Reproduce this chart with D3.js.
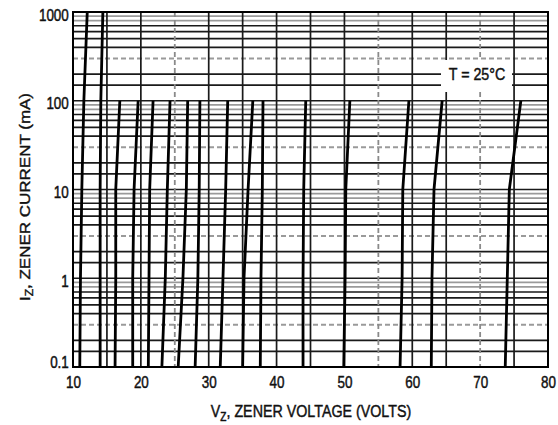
<!DOCTYPE html>
<html>
<head>
<meta charset="utf-8">
<script src="https://cdn.jsdelivr.net/npm/d3@7"></script>
<style>
body { margin: 0; background: #fff; }
svg text { font-family: "Liberation Sans", Arial, sans-serif; fill: #111; stroke: #111; stroke-width: 0.45px; }
</style>
</head>
<body>
<div id="chart"></div>
<script>
const currents = [0.1, 1, 10, 100, 1000];

// zener voltage (V) of each device at those currents (most stop at 100 mA)
const zenerVoltages = [
    [11.0, 11.1, 11.3, 11.6, 12.1],
    [14.0, 14.0, 14.0, 14.1, 14.4],
    [16.2, 16.3, 16.3, 16.9],
    [18.8, 18.8, 19.0, 19.6],
    [21.1, 21.2, 21.3, 21.8],
    [23.1, 23.6, 23.9, 24.3],
    [25.5, 26.2, 26.7, 26.9],
    [28.0, 28.4, 28.6, 28.7],
    [31.7, 32.1, 32.5, 32.8],
    [35.0, 35.2, 35.8, 36.5],
    [37.6, 37.7, 37.9, 38.0],
    [43.9, 43.9, 44.0, 44.3],
    [49.9, 50.1, 50.2, 50.8],
    [58.2, 58.5, 58.6, 59.5],
    [62.8, 62.9, 63.2, 64.4],
    [73.7, 74.0, 74.3, 76.0]
];

const xTicks = [10, 20, 30, 40, 50, 60, 70, 80];
const yTicks = [0.1, 1, 10, 100, 1000];
const yTickLabels = ['0.1', '1', '10', '100', '1000'];
const xGrid = [15, 20, 25, 30, 35, 40, 45, 50, 55, 60, 65, 70, 75];
const xGridDashed = [25, 55, 70];
const decades = [0.1, 1, 10, 100];
const gridSteps = [1, 1.5, 2, 3, 4, 5, 6, 7, 8, 9];

const width = 558;
const height = 425;
const plotLeft = 73, plotRight = 548, plotTop = 12, plotBottom = 367;
const squeeze = 'scale(0.84,1)';

const x = d3.scaleLinear().domain([10, 80]).range([plotLeft, plotRight]);
const y = d3.scaleLog().domain([0.1, 1000]).range([plotBottom, plotTop]);

const svg = d3.select('#chart').append('svg')
    .attr('width', width)
    .attr('height', height);

// horizontal grid
const hLines = [];
decades.forEach(d => gridSteps.forEach(m => hLines.push({ v: d * m, m: m })));
svg.append('g').selectAll('line')
    .data(hLines.filter(h => h.v > 0.1 && h.v < 1000))
    .join('line')
    .attr('x1', plotLeft).attr('x2', plotRight)
    .attr('y1', h => y(h.v)).attr('y2', h => y(h.v))
    .attr('stroke', h => h.m === 3 || h.m >= 8 ? '#9a9a9a' : '#1a1a1a')
    .attr('stroke-width', h => h.m === 3 ? 2 : 1.7)
    .attr('stroke-dasharray', h => h.m === 3 ? '5,3' : null);

// vertical grid
svg.append('g').selectAll('line')
    .data(xGrid)
    .join('line')
    .attr('x1', d => x(d)).attr('x2', d => x(d))
    .attr('y1', plotTop).attr('y2', plotBottom)
    .attr('stroke', d => xGridDashed.includes(d) ? '#8a8a8a' : '#1a1a1a')
    .attr('stroke-width', d => xGridDashed.includes(d) ? 1.8 : 1.7)
    .attr('stroke-dasharray', d => xGridDashed.includes(d) ? '5,3' : null);

// temperature note box
svg.append('rect')
    .attr('x', 441).attr('y', 60)
    .attr('width', 71).attr('height', 32)
    .attr('fill', '#fff');
svg.append('text')
    .attr('transform', `translate(477,80) ${squeeze}`)
    .attr('text-anchor', 'middle')
    .attr('font-size', 17)
    .text('T = 25°C');

// zener curves
const line = d3.line()
    .x(d => x(d[0]))
    .y(d => y(d[1]));

svg.append('g').selectAll('path')
    .data(zenerVoltages.map(vs => vs.map((v, i) => [v, currents[i]])))
    .join('path')
    .attr('d', line)
    .attr('fill', 'none')
    .attr('stroke', '#000')
    .attr('stroke-width', 2.8)
    .attr('stroke-linejoin', 'round');

// frame
svg.append('rect')
    .attr('x', plotLeft).attr('y', plotTop)
    .attr('width', plotRight - plotLeft).attr('height', plotBottom - plotTop)
    .attr('fill', 'none')
    .attr('stroke', '#000')
    .attr('stroke-width', 2);

// axes
svg.append('g')
    .attr('transform', `translate(0,${plotBottom})`)
    .call(d3.axisBottom(x).tickValues(xTicks).tickSize(0).tickPadding(10).tickFormat(d3.format('d')))
    .call(g => g.select('.domain').remove())
    .call(g => g.attr('font-family', null))
    .call(g => g.selectAll('text')
        .attr('font-size', 16)
        .attr('transform', squeeze));

svg.append('g')
    .attr('transform', `translate(${plotLeft},0)`)
    .call(d3.axisLeft(y).tickValues(yTicks).tickSize(0).tickPadding(5).tickFormat((d, i) => yTickLabels[i]))
    .call(g => g.select('.domain').remove())
    .call(g => g.attr('font-family', null))
    .call(g => g.selectAll('text')
        .attr('font-size', 16)
        .attr('dy', d => d === 0.1 ? '0.05em' : '0.5em')
        .attr('transform', squeeze));

// axis titles
const xTitle = svg.append('text')
    .attr('transform', `translate(311,417) ${squeeze}`)
    .attr('text-anchor', 'middle')
    .attr('font-size', 17);
xTitle.append('tspan').text('V');
xTitle.append('tspan').attr('font-size', 12).attr('dy', 4).text('Z');
xTitle.append('tspan').attr('dy', -4).text(', ZENER VOLTAGE (VOLTS)');

const yTitle = svg.append('text')
    .attr('transform', `translate(30,197) ${squeeze} rotate(-90)`)
    .attr('text-anchor', 'middle')
    .attr('font-size', 17);
yTitle.append('tspan').text('I');
yTitle.append('tspan').attr('font-size', 12).attr('dy', 4).text('Z');
yTitle.append('tspan').attr('dy', -4).text(', ZENER CURRENT (mA)');
</script>
</body>
</html>
